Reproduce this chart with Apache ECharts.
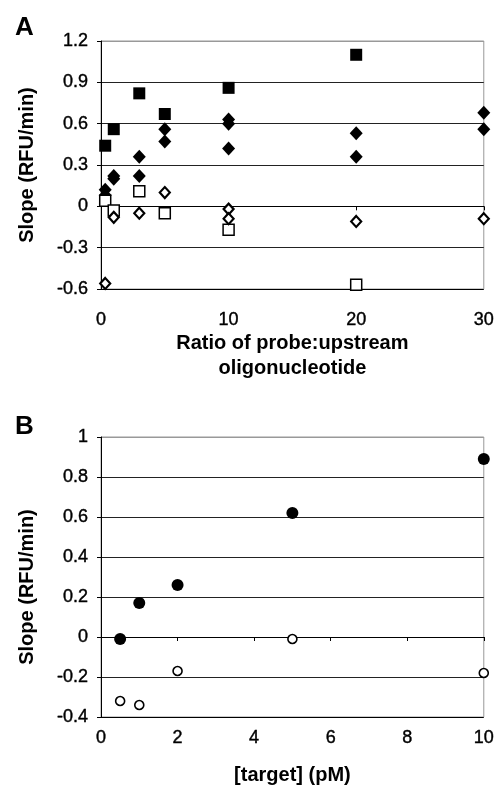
<!DOCTYPE html>
<html>
<head>
<meta charset="utf-8">
<script src="https://cdn.jsdelivr.net/npm/echarts@6/dist/echarts.min.js"></script>
<style>
  html, body {margin: 0; padding: 0; background: #fff;}
  #main {width: 497px; height: 787px;}
</style>
</head>
<body>
<div id="main"></div>
<script>
// panel A: [ratio, slope]
var filledSquaresA = [[0.33, 0.44], [1, 0.56], [3, 0.82], [5, 0.67], [10, 0.86], [20, 1.10]];
var filledDiamondsA = [[0.33, 0.12], [0.33, 0.08], [1, 0.22], [1, 0.20], [3, 0.36], [3, 0.22],
    [5, 0.56], [5, 0.47], [10, 0.63], [10, 0.60], [10, 0.42], [20, 0.53], [20, 0.36], [30, 0.68], [30, 0.56]];
var openSquaresA = [[0.33, 0.04], [1, -0.03], [3, 0.11], [5, -0.05], [10, -0.17], [20, -0.57]];
var openDiamondsA = [[0.33, -0.56], [1, -0.08], [3, -0.05], [5, 0.10], [10, -0.02], [10, -0.09], [20, -0.11], [30, -0.09]];

// panel B: [target pM, slope]
var filledCirclesB = [[0.5, -0.01], [1, 0.17], [2, 0.26], [5, 0.62], [10, 0.89]];
var openCirclesB = [[0.5, -0.32], [1, -0.34], [2, -0.17], [5, -0.01], [10, -0.18]];

var fontFam = '"Liberation Sans", Arial, sans-serif';
// scanned labels look heavier than plain regular, thicken a bit
var tickLabel = {color: '#000', fontSize: 18, fontFamily: fontFam, textBorderColor: '#000', textBorderWidth: 0.4};
var nameStyle = {color: '#000', fontSize: 20, fontWeight: 'bold', fontFamily: fontFam};

var myChart = echarts.init(document.getElementById('main'));

myChart.setOption({
    backgroundColor: '#fff',
    animation: false,
    graphic: [
        {type: 'text', left: 15, top: 15, style: {text: 'A', font: 'bold 26px ' + fontFam, fill: '#000'}},
        {type: 'text', left: 15, top: 414, style: {text: 'B', font: 'bold 26px ' + fontFam, fill: '#000'}}
    ],
    grid: [
        {left: 101, top: 41, width: 383, height: 248, show: true, borderColor: '#999', borderWidth: 1},
        {left: 101, top: 437, width: 384, height: 280, show: true, borderColor: '#999', borderWidth: 1}
    ],
    xAxis: [
        {
            gridIndex: 0, type: 'value', min: 0, max: 30, interval: 10,
            name: 'Ratio of probe:upstream\noligonucleotide', nameLocation: 'middle', nameGap: 42,
            nameTextStyle: Object.assign({lineHeight: 25}, nameStyle),
            axisLine: {lineStyle: {color: '#000', width: 1}},
            axisTick: {show: true, length: 4, lineStyle: {color: '#000'}},
            axisLabel: Object.assign({margin: 22}, tickLabel),
            splitLine: {show: false}
        },
        {
            gridIndex: 1, type: 'value', min: 0, max: 10, interval: 2,
            name: '[target] (pM)', nameLocation: 'middle', nameGap: 48,
            nameTextStyle: nameStyle,
            axisLine: {lineStyle: {color: '#000', width: 1}},
            axisTick: {show: true, length: 4, lineStyle: {color: '#000'}},
            axisLabel: Object.assign({margin: 12}, tickLabel),
            splitLine: {show: false}
        }
    ],
    yAxis: [
        {
            gridIndex: 0, type: 'value', min: -0.6, max: 1.2, interval: 0.3,
            name: 'Slope (RFU/min)', nameLocation: 'middle', nameGap: 64,
            nameTextStyle: nameStyle,
            axisLine: {show: true, lineStyle: {color: '#000', width: 1}},
            axisTick: {show: true, length: 4, lineStyle: {color: '#000'}},
            axisLabel: Object.assign({margin: 13}, tickLabel),
            splitLine: {show: true, lineStyle: {color: ['#000', '#222', '#222', '#222', '#222', '#222', '#999'], width: 1}}
        },
        {
            gridIndex: 1, type: 'value', min: -0.4, max: 1, interval: 0.2,
            name: 'Slope (RFU/min)', nameLocation: 'middle', nameGap: 64,
            nameTextStyle: Object.assign({padding: [0, 20, 0, 0]}, nameStyle),
            axisLine: {show: true, lineStyle: {color: '#000', width: 1}},
            axisTick: {show: true, length: 4, lineStyle: {color: '#000'}},
            axisLabel: Object.assign({margin: 13}, tickLabel),
            splitLine: {show: true, lineStyle: {color: ['#000', '#222', '#222', '#222', '#222', '#222', '#222', '#999'], width: 1}}
        }
    ],
    series: [
        {
            name: 'filled square', type: 'scatter', xAxisIndex: 0, yAxisIndex: 0,
            data: filledSquaresA, symbol: 'rect', symbolSize: 12,
            itemStyle: {color: '#000', opacity: 1}
        },
        {
            name: 'filled diamond', type: 'scatter', xAxisIndex: 0, yAxisIndex: 0,
            data: filledDiamondsA, symbol: 'diamond', symbolSize: [13, 14],
            itemStyle: {color: '#000', opacity: 1}
        },
        {
            name: 'open square', type: 'scatter', xAxisIndex: 0, yAxisIndex: 0,
            data: openSquaresA, symbol: 'rect', symbolSize: 11,
            itemStyle: {color: '#fff', borderColor: '#000', borderWidth: 1.5, opacity: 1}
        },
        {
            name: 'open diamond', type: 'scatter', xAxisIndex: 0, yAxisIndex: 0,
            data: openDiamondsA, symbol: 'diamond', symbolSize: [10, 11],
            itemStyle: {color: '#fff', borderColor: '#000', borderWidth: 2.2, opacity: 1}
        },
        {
            name: 'filled circle', type: 'scatter', xAxisIndex: 1, yAxisIndex: 1,
            data: filledCirclesB, symbol: 'circle', symbolSize: 12,
            itemStyle: {color: '#000', opacity: 1}
        },
        {
            name: 'open circle', type: 'scatter', xAxisIndex: 1, yAxisIndex: 1,
            data: openCirclesB, symbol: 'circle', symbolSize: 9,
            itemStyle: {color: '#fff', borderColor: '#000', borderWidth: 1.6, opacity: 1}
        }
    ]
});
</script>
</body>
</html>
